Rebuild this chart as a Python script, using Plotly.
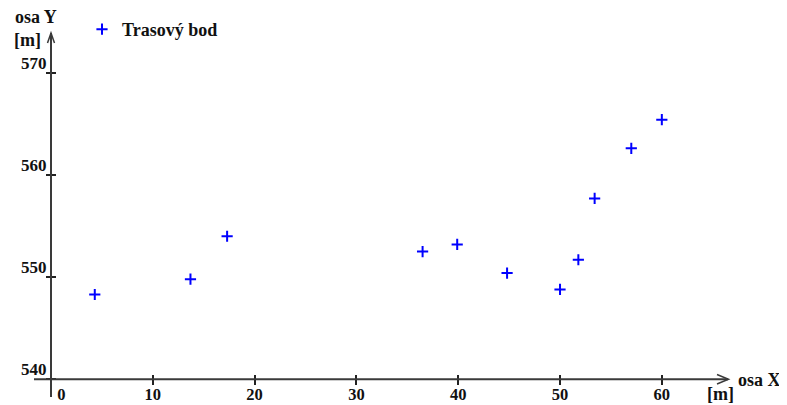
import plotly.graph_objects as go

# ---- data ----
x_m = [4.3, 13.7, 17.3, 36.5, 39.9, 44.8, 50.0, 51.8, 53.4, 57.0, 60.0]
y_m = [548.3, 549.8, 554.0, 552.5, 553.2, 550.4, 548.8, 551.7, 557.7, 562.6, 565.4]
series_name = "Trasový bod"
x_ticks = [0, 10, 20, 30, 40, 50, 60]
x_tick_labels = ["\u00a0" * 5 + "0", "10", "20", "30", "40", "50", "60"]
y_ticks = [540, 550, 560, 570]
y_tick_labels = ["540", "550", "560", "570"]

# the page body has an 8px margin, so the figure is drawn 8px in from the corner
OFF = 8
W, H = 787 - OFF, 405 - OFF
FONT = "Liberation Serif"
TXT = "#111111"
AX = "#3a3a3a"


def fx(px):
    return (px - OFF) / W


def fy(py):
    return 1 - (py - OFF) / H


fig = go.Figure()
fig.add_trace(go.Scatter(
    x=x_m, y=y_m, mode="markers", name="<b>" + series_name + "</b>",
    marker=dict(symbol="cross-thin", size=8, color="#0000ff",
                line=dict(color="#0000ff", width=2)),
))

tickfont = dict(family=FONT, size=17, color=TXT, weight="bold")
xtickfont = dict(family=FONT, size=16.5, color=TXT, weight="bold")

fig.update_layout(
    width=W, height=H,
    margin=dict(l=0, r=0, t=0, b=0, pad=0, autoexpand=False),
    paper_bgcolor="white", plot_bgcolor="white",
    showlegend=True,
    legend=dict(x=fx(82), y=fy(11), xanchor="left", yanchor="top",
                font=dict(family=FONT, size=18, color=TXT),
                bgcolor="rgba(0,0,0,0)", borderwidth=0),
    xaxis=dict(domain=[fx(34), fx(728)], range=[-1.67, 66.50],
               anchor="free", position=fy(374.3), automargin=False,
               showline=False, showgrid=False, zeroline=False,
               ticks="outside", ticklen=10, tickwidth=1.5, tickcolor="#222222",
               tickvals=x_ticks, ticktext=x_tick_labels, tickfont=xtickfont,
               ticklabelstandoff=-5),
    yaxis=dict(domain=[fy(397), fy(33)], range=[538.27, 573.885],
               anchor="free", position=fx(56), automargin=False,
               showline=False, showgrid=False, zeroline=False,
               ticks="outside", ticklen=10, tickwidth=1.5, tickcolor="#222222",
               tickvals=y_ticks, ticktext=y_tick_labels, tickfont=tickfont,
               ticklabelshift=-10, ticklabelstandoff=-4),
)

# axis lines with open arrowheads
line = dict(color=AX, width=2)
fig.add_shape(type="line", xref="paper", yref="paper",
              x0=fx(34), x1=fx(728), y0=fy(379.3), y1=fy(379.3), line=line)
fig.add_shape(type="line", xref="paper", yref="paper",
              x0=fx(51), x1=fx(51), y0=fy(397), y1=fy(33), line=line)
fig.add_shape(type="path", xref="paper", yref="paper",
              path=f"M {fx(47.5)},{fy(43)} L {fx(51)},{fy(33)} L {fx(54.5)},{fy(43)}",
              line=dict(color=AX, width=1.5))
fig.add_shape(type="path", xref="paper", yref="paper",
              path=f"M {fx(717)},{fy(374.5)} L {fx(728.5)},{fy(379.3)} L {fx(717)},{fy(384)}",
              line=dict(color=AX, width=1.5))

lab = dict(family=FONT, size=18, color=TXT)
for txt, px, py in [("<b>osa Y</b>", 13, 17), ("<b>[m]</b>", 12, 40),
                    ("<b>osa X</b>", 736, 380), ("<b>[m]</b>", 705, 394)]:
    fig.add_annotation(text=txt, x=fx(px), y=fy(py), xref="paper", yref="paper",
                       xanchor="left", yanchor="middle", showarrow=False, font=lab)

fig.write_html("out.html")
